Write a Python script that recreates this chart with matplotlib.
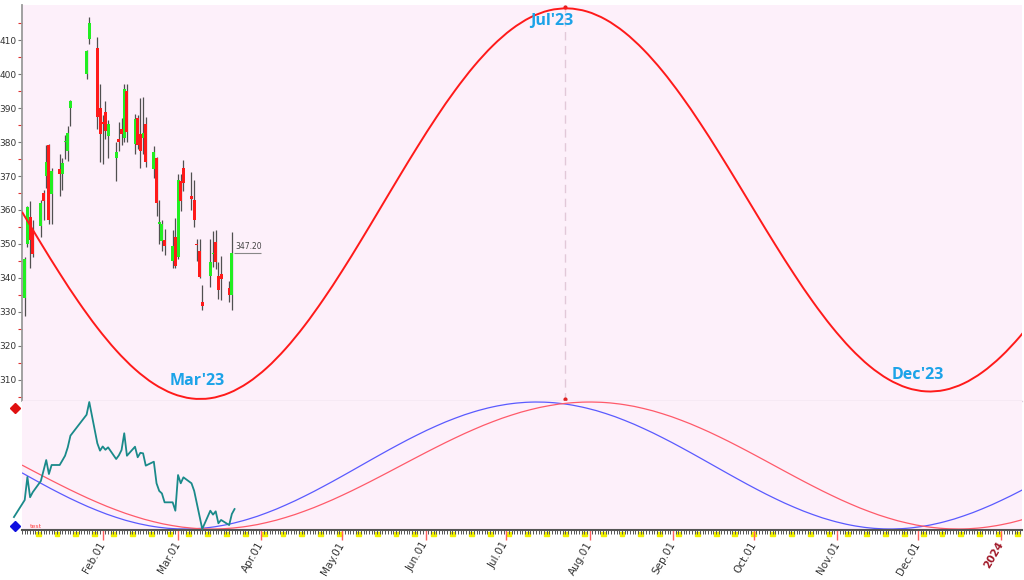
import numpy as np
import pandas as pd
import matplotlib
matplotlib.use('Agg')
import matplotlib.pyplot as plt
import matplotlib.dates as mdates
from matplotlib.patches import Rectangle, PathPatch
from matplotlib.path import Path
from matplotlib.transforms import blended_transform_factory
from matplotlib.ticker import FixedLocator

# daily candles (HK calendar)
candle_dates = ['2023-01-03', '2023-01-04', '2023-01-05', '2023-01-06', '2023-01-09', '2023-01-10',
                '2023-01-11', '2023-01-12', '2023-01-13', '2023-01-16', '2023-01-17', '2023-01-18',
                '2023-01-19', '2023-01-20', '2023-01-26', '2023-01-27', '2023-01-30', '2023-01-31',
                '2023-02-01', '2023-02-02', '2023-02-03', '2023-02-06', '2023-02-07', '2023-02-08',
                '2023-02-09', '2023-02-10', '2023-02-13', '2023-02-14', '2023-02-15', '2023-02-16',
                '2023-02-17', '2023-02-20', '2023-02-21', '2023-02-22', '2023-02-23', '2023-02-24',
                '2023-02-27', '2023-02-28', '2023-03-01', '2023-03-02', '2023-03-03', '2023-03-06',
                '2023-03-07', '2023-03-08', '2023-03-09', '2023-03-10', '2023-03-13', '2023-03-14',
                '2023-03-15', '2023-03-16', '2023-03-17', '2023-03-20', '2023-03-21']
opens = [334.2, 350.0, 358.0, 354.0, 355.3, 365.0, 370.0, 379.0, 364.6, 372.2, 370.7, 380.0,
         377.4, 390.1, 400.1, 410.4, 407.7, 390.0, 386.0, 389.0, 381.8, 375.3, 381.0, 384.0,
         381.3, 395.2, 379.5, 387.2, 382.3, 381.3, 385.3, 372.0, 375.3, 356.0, 350.9, 351.2,
         345.1, 352.0, 346.0, 368.6, 372.3, 364.2, 363.0, 350.0, 348.0, 333.0, 340.5, 347.0,
         350.5, 340.4, 341.0, 337.0, 334.8]
highs = [346.0, 361.2, 362.5, 357.0, 363.0, 366.0, 379.0, 379.5, 372.5, 376.4, 375.4, 382.0,
         384.7, 392.3, 407.0, 416.8, 411.0, 397.0, 388.0, 392.0, 386.4, 380.0, 386.0, 387.0,
         397.0, 397.0, 388.4, 388.0, 393.0, 393.2, 387.4, 378.8, 375.5, 363.0, 357.0, 354.5,
         354.0, 357.5, 370.7, 370.5, 374.7, 371.2, 368.8, 351.5, 351.5, 338.0, 351.5, 353.9,
         354.1, 344.6, 346.5, 339.0, 353.4]
lows = [328.8, 349.0, 343.0, 346.0, 352.0, 357.0, 366.5, 356.0, 356.0, 364.1, 366.0, 375.0,
        374.4, 384.7, 398.6, 408.9, 384.0, 374.0, 373.5, 381.0, 375.4, 368.6, 377.4, 379.0,
        380.0, 380.0, 376.5, 378.0, 372.5, 376.5, 372.8, 369.4, 358.3, 350.0, 348.0, 346.7,
        343.0, 343.0, 345.6, 359.8, 365.7, 360.0, 355.0, 345.0, 340.0, 330.4, 337.3, 343.1,
        342.7, 333.8, 333.5, 333.0, 330.4]
closes = [345.5, 361.0, 351.0, 347.0, 362.0, 362.5, 374.0, 357.0, 371.5, 370.5, 373.9, 380.2,
          382.7, 392.1, 406.8, 415.1, 387.4, 382.5, 385.2, 383.3, 385.2, 377.0, 380.0, 382.5,
          395.5, 383.0, 386.7, 379.0, 377.4, 382.8, 374.0, 377.2, 362.0, 356.3, 356.0, 349.5,
          349.5, 343.6, 368.8, 362.7, 367.8, 363.2, 357.0, 349.6, 340.2, 331.7, 344.8, 347.2,
          344.6, 336.3, 339.7, 334.8, 347.2]

# oscillator line (lower panel, 0..1)
teal_dates = ['2022-12-30'] + candle_dates + ['2023-03-22']
teal_values = [0.094, 0.228, 0.41, 0.25, 0.29, 0.378, 0.46, 0.543, 0.433, 0.504, 0.504, 0.54,
               0.577, 0.643, 0.735, 0.90, 1.0, 0.675, 0.617, 0.65, 0.624, 0.643, 0.551, 0.58,
               0.622, 0.754, 0.577, 0.648, 0.565, 0.60, 0.596, 0.499, 0.53, 0.36, 0.30, 0.28,
               0.21, 0.21, 0.144, 0.425, 0.36, 0.407, 0.36, 0.30, 0.20, 0.10, 0.0, 0.144,
               0.113, 0.139, 0.045, 0.071, 0.031, 0.118, 0.157]

# cycle curves, read weekly from 2023-01-02
cycle_dates = pd.date_range('2023-01-02', periods=55, freq='7D')
price_cycle = [359.44, 350.23, 341.31, 332.91, 325.28, 318.61, 313.06, 308.78, 305.89, 304.46,
               304.52, 306.08, 309.10, 313.48, 319.14, 325.90, 333.62, 342.05, 351.01, 360.26,
               369.54, 378.62, 387.27, 395.25, 402.37, 408.41, 413.25, 416.75, 418.81, 419.39,
               418.48, 416.10, 412.32, 407.24, 401.00, 393.74, 385.68, 377.02, 367.99, 358.82,
               349.76, 341.06, 332.93, 325.60, 319.24, 314.03, 310.12, 307.60, 306.54, 306.96,
               308.86, 312.19, 316.85, 322.75, 329.66]
blue_cycle = [0.4424, 0.3602, 0.2818, 0.2096, 0.1456, 0.0916, 0.0491, 0.0193, 0.0030, 0.0008,
              0.0127, 0.0383, 0.0769, 0.1274, 0.1886, 0.2584, 0.3350, 0.4162, 0.5, 0.5837,
              0.6650, 0.7416, 0.8115, 0.8725, 0.9231, 0.9617, 0.9873, 0.9992, 0.9970, 0.9809,
              0.9513, 0.9092, 0.8555, 0.7918, 0.7201, 0.6422, 0.5603, 0.4767, 0.3938, 0.3138,
              0.2390, 0.1716, 0.1134, 0.0659, 0.0306, 0.0085, 0.0001, 0.0057, 0.0251, 0.0578,
              0.1030, 0.1592, 0.2250, 0.2983, 0.3775]
red_cycle = [0.5033, 0.4254, 0.3494, 0.2769, 0.2099, 0.1500, 0.0987, 0.0571, 0.0263, 0.0072,
             0.0000, 0.0051, 0.0222, 0.0511, 0.0908, 0.1406, 0.1991, 0.2650, 0.3366, 0.4122,
             0.4900, 0.5680, 0.6443, 0.7171, 0.7846, 0.8452, 0.8973, 0.9398, 0.9715, 0.9917,
             0.9998, 0.9956, 0.9786, 0.9492, 0.9083, 0.8568, 0.7962, 0.7279, 0.6537, 0.5756,
             0.4954, 0.4154, 0.3377, 0.2641, 0.1965, 0.1368, 0.0865, 0.0469, 0.0189, 0.0033,
             0.0005, 0.0107, 0.0334, 0.0682, 0.1141]

cycle_labels = ["Mar'23", "Jul'23", "Dec'23"]
label_dates = ['2023-03-08', '2023-07-18', '2023-12-01']
label_values = [309.6, 415.6, 311.3]
peak_date = '2023-07-23'

price_ticks = list(range(310, 411, 10))
price_minor = list(range(305, 416, 10))
month_ticks = pd.date_range('2023-02-01', '2024-01-01', freq='MS')
month_labels = [d.strftime('%b.01') for d in month_ticks[:-1]] + ['2024']


def smooth_line(ax, x, y, **kw):
    # draw a smooth curve through the points (Catmull-Rom as cubic Bezier)
    n = len(x)
    verts = [(x[0], y[0])]
    codes = [Path.MOVETO]
    for i in range(n - 1):
        a = max(i - 1, 0)
        b = min(i + 2, n - 1)
        c1 = (x[i] + (x[i + 1] - x[a]) / 6, y[i] + (y[i + 1] - y[a]) / 6)
        c2 = (x[i + 1] - (x[b] - x[i]) / 6, y[i + 1] - (y[b] - y[i]) / 6)
        verts += [c1, c2, (x[i + 1], y[i + 1])]
        codes += [Path.CURVE4] * 3
    ax.add_patch(PathPatch(Path(verts, codes), fill=False, **kw))


# ---- figure
fig = plt.figure(figsize=(10.24, 5.8), dpi=100)
ax1 = fig.add_axes([0.0215, 0.3086, 0.9765, 0.6828])
ax2 = fig.add_axes([0.0215, 0.0862, 0.9765, 0.2224], sharex=ax1)
bg = '#fdf0fa'
for ax in (ax1, ax2):
    ax.set_facecolor(bg)
    ax.spines['top'].set_visible(False)
    ax.spines['right'].set_visible(False)

x0 = mdates.date2num(pd.Timestamp('2023-01-02'))

# candles
cx = mdates.date2num(pd.to_datetime(candle_dates))
o = np.array(opens)
c = np.array(closes)
up = c >= o
ax1.vlines(cx, lows, highs, color='#505050', lw=0.9, zorder=2)
ax1.bar(cx, np.maximum(np.abs(c - o), 0.35), bottom=np.minimum(o, c), width=1.1,
        color=np.where(up, '#22ee22', '#ff1a1a'), zorder=3)

# last price marker
last_x = cx[-1]
ax1.hlines(closes[-1], last_x + 0.8, last_x + 11, color='#888888', lw=0.8)
ax1.text(last_x + 1.3, closes[-1] + 0.6, '%.2f' % closes[-1], fontsize=5.5,
         color='#444444', va='bottom', ha='left')

# price cycle
cyc_x = mdates.date2num(cycle_dates)
smooth_line(ax1, cyc_x, price_cycle, edgecolor='#ff1a1a', lw=1.4, zorder=4)

px = mdates.date2num(pd.Timestamp(peak_date))
ax1.axvline(px, color='#e2c8d8', lw=1, ls=(0, (6, 4)), zorder=1)
tr1 = blended_transform_factory(ax1.transData, ax1.transAxes)
ax1.plot([px, px], [0.995, 0.006], 'o', color='#e02020', ms=2, transform=tr1, clip_on=False)

for lab, d, v in zip(cycle_labels, label_dates, label_values):
    ax1.text(mdates.date2num(pd.Timestamp(d)), v, lab, color='#1ca3e8', fontsize=11.5,
             fontweight='bold', family='Open Sans', ha='center', va='center', zorder=5)

ax1.set_xlim(x0, x0 + 371.7)
ax1.set_ylim(303.7, 420.4)
ax1.set_yticks(price_ticks)
ax1.yaxis.set_minor_locator(FixedLocator(price_minor))
ax1.tick_params(axis='y', which='major', length=3, width=0.8, color='#777777',
                labelsize=6.5, labelcolor='#333333', pad=1)
ax1.tick_params(axis='y', which='minor', length=3, width=0.8, color='#e03030')
ax1.tick_params(axis='x', which='both', bottom=False, labelbottom=False)
ax1.spines['left'].set_color('#9a9a9a')
ax1.spines['left'].set_linewidth(1.3)
ax1.spines['bottom'].set_color('#dcd0dc')
ax1.spines['bottom'].set_linewidth(1)

# ---- lower panel
smooth_line(ax2, cyc_x, blue_cycle, edgecolor='#5a5aff', lw=0.9)
smooth_line(ax2, cyc_x, red_cycle, edgecolor='#ff5a6a', lw=0.9)
tx = mdates.date2num(pd.to_datetime(teal_dates))
ax2.plot(tx, teal_values, color='#1a8a8a', lw=1.3, clip_on=False, zorder=4)
ax2.set_ylim(-0.008, 1.008)
ax2.set_yticks([])
ax2.spines['left'].set_visible(False)
ax2.spines['bottom'].set_color('#555555')
ax2.spines['bottom'].set_linewidth(1.5)

ax2.plot([-0.007], [0.946], 'D', color='#e01010', ms=5, transform=ax2.transAxes, clip_on=False)
ax2.plot([-0.007], [0.031], 'D', color='#1010e0', ms=5, transform=ax2.transAxes, clip_on=False)
ax2.text(0.008, 0.01, 'test', color='#ff4040', fontsize=4.5, transform=ax2.transAxes,
         va='bottom')

# weekends in yellow under the axis
tr2 = blended_transform_factory(ax2.transData, ax2.transAxes)
for sat in pd.date_range('2023-01-07', '2024-01-08', freq='7D'):
    ax2.add_patch(Rectangle((mdates.date2num(sat) + 0.1, -0.047), 1.8, 0.035,
                            transform=tr2, color='#f2f200', clip_on=False, zorder=0))

ax2.xaxis.set_minor_locator(mdates.DayLocator())
ax2.set_xticks(mdates.date2num(month_ticks))
ax2.set_xticklabels(month_labels, rotation=60, ha='right', va='center',
                    rotation_mode='anchor', fontsize=7.5, color='#333333')
ax2.tick_params(axis='x', which='minor', length=3, width=0.7, color='#555555')
ax2.tick_params(axis='x', which='major', length=7, width=1, color='#ff6060', pad=2)
last_lab = ax2.get_xticklabels()[-1]
last_lab.set_color('#a01828')
last_lab.set_fontweight('bold')
ax2.set_xlim(x0, x0 + 371.7)

fig.savefig('out.png', dpi=100)
